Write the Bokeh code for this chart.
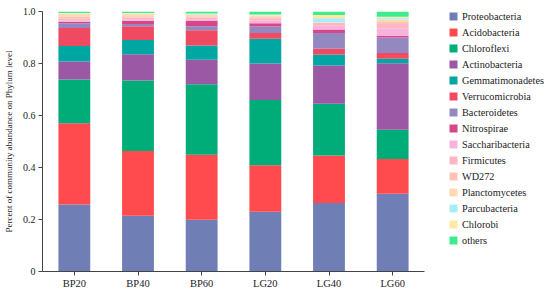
from bokeh.plotting import figure
from bokeh.layouts import row
from bokeh.models import (Range1d, FactorRange, FixedTicker, Legend, LegendItem,
                          PrintfTickFormatter)
from bokeh.embed import file_html
from bokeh.resources import INLINE

samples = ["BP20", "BP40", "BP60", "LG20", "LG40", "LG60"]
phyla = ["Proteobacteria", "Acidobacteria", "Chloroflexi", "Actinobacteria",
         "Gemmatimonadetes", "Verrucomicrobia", "Bacteroidetes", "Nitrospirae",
         "Saccharibacteria", "Firmicutes", "WD272", "Planctomycetes",
         "Parcubacteria", "Chlorobi", "others"]
colors = ["#6F7FB6", "#FF4A4E", "#00AD78", "#9A58A5", "#00A6A2", "#F04A63",
          "#9389C0", "#D8468A", "#F7B2DE", "#FFB6C3", "#FFC3B6", "#FFD8B4",
          "#A8ECFA", "#FFE9A3", "#3FEB8C"]

Proteobacteria   = [0.258, 0.214, 0.199, 0.230, 0.263, 0.299]
Acidobacteria    = [0.312, 0.249, 0.250, 0.179, 0.183, 0.134]
Chloroflexi      = [0.168, 0.272, 0.271, 0.251, 0.199, 0.112]
Actinobacteria   = [0.070, 0.101, 0.094, 0.140, 0.147, 0.256]
Gemmatimonadetes = [0.059, 0.054, 0.055, 0.095, 0.043, 0.017]
Verrucomicrobia  = [0.070, 0.053, 0.059, 0.022, 0.022, 0.022]
Bacteroidetes    = [0.018, 0.009, 0.015, 0.025, 0.060, 0.060]
Nitrospirae      = [0.005, 0.012, 0.020, 0.013, 0.014, 0.006]
Saccharibacteria = [0.004, 0.004, 0.005, 0.010, 0.014, 0.030]
Firmicutes       = [0.008, 0.008, 0.008, 0.009, 0.012, 0.016]
WD272            = [0.008, 0.006, 0.006, 0.004, 0.000, 0.008]
Planctomycetes   = [0.010, 0.008, 0.006, 0.005, 0.002, 0.008]
Parcubacteria    = [0.002, 0.002, 0.002, 0.002, 0.015, 0.006]
Chlorobi         = [0.002, 0.002, 0.002, 0.003, 0.013, 0.006]
others           = [0.006, 0.006, 0.008, 0.012, 0.013, 0.020]

series = [Proteobacteria, Acidobacteria, Chloroflexi, Actinobacteria, Gemmatimonadetes,
          Verrucomicrobia, Bacteroidetes, Nitrospirae, Saccharibacteria, Firmicutes,
          WD272, Planctomycetes, Parcubacteria, Chlorobi, others]

data = {"sample": samples}
for name, vals in zip(phyla, series):
    data[name] = vals

FONT = "Liberation Serif"

# ---- main chart ----
p = figure(width=430, height=291, x_range=FactorRange(*samples, range_padding=0),
           y_range=Range1d(0, 1), output_backend="svg", toolbar_location=None,
           min_border_left=40, min_border_right=6, min_border_top=11, min_border_bottom=20)
p.outline_line_color = None
p.xgrid.visible = False
p.ygrid.visible = False

p.vbar_stack(phyla, x="sample", width=0.5, source=data, color=colors, line_color=None)

for ax in (p.xaxis[0], p.yaxis[0]):
    ax.axis_line_color = "#444444"
    ax.major_tick_line_color = "#444444"
    ax.minor_tick_line_color = None
    ax.major_tick_out = 4
    ax.major_tick_in = 0
    ax.major_label_text_font = FONT
    ax.major_label_text_color = "#222222"

p.xaxis.major_label_text_font_size = "10.5px"
p.yaxis.major_label_text_font_size = "10px"
p.xaxis.major_label_standoff = 2
p.yaxis.major_label_standoff = 3
p.yaxis.ticker = FixedTicker(ticks=[0, 0.2, 0.4, 0.6, 0.8, 1.0])
p.yaxis.formatter = PrintfTickFormatter(format="%.1f")
p.yaxis.major_label_overrides = {0: "0"}
p.yaxis.axis_label = "Percent of community abundance on Phylum level"
p.yaxis.axis_label_text_font = FONT
p.yaxis.axis_label_text_font_size = "9px"
p.yaxis.axis_label_text_font_style = "normal"
p.yaxis.axis_label_text_color = "#222222"
p.yaxis.axis_label_standoff = 6

# ---- legend panel (same stacked data, hidden renderers; only the legend shows) ----
p2 = figure(width=120, height=291, x_range=FactorRange(*samples), y_range=Range1d(0, 1),
            output_backend="svg", toolbar_location=None, tools="",
            x_axis_location=None, y_axis_location=None,
            min_border=0, min_border_left=0, min_border_right=0,
            min_border_top=0, min_border_bottom=0)
p2.grid.visible = False
p2.outline_line_color = None
rs = p2.vbar_stack(phyla, x="sample", width=0.5, source=data, color=colors, line_color=None)
for r in rs:
    r.visible = False

items = [LegendItem(label=n, renderers=[r]) for n, r in zip(phyla, rs)]
legend = Legend(items=items, location=(18, 25), orientation="vertical",
                glyph_width=10, glyph_height=10, label_height=12, spacing=4,
                label_standoff=4, padding=0, margin=0,
                label_text_font=FONT, label_text_font_size="10.25px",
                label_text_color="#222222",
                inactive_fill_alpha=0, click_policy="none",
                border_line_color=None, background_fill_alpha=0)
p2.add_layout(legend, "center")

layout = row(p, p2)
open("out.html", "w").write(file_html(layout, INLINE))
